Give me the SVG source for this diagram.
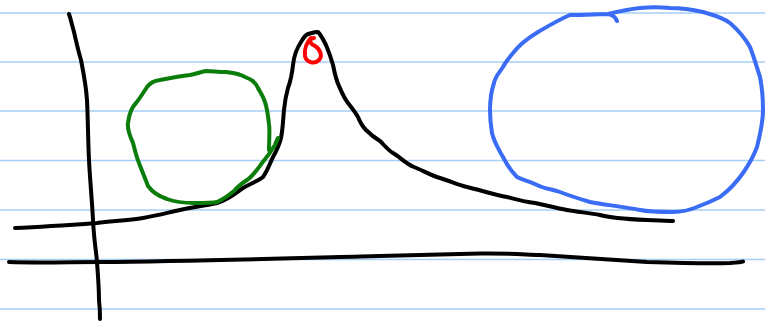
<svg xmlns="http://www.w3.org/2000/svg" width="765" height="322" viewBox="0 0 765 322">
<style>
.rule{stroke:#a6cff7;stroke-width:1.5;fill:none}
.ink{fill:none;stroke-width:4;stroke-linecap:round;stroke-linejoin:round}
.black{stroke:#000}
.green{stroke:#0b7d0b}
.red{stroke:#ff0000}
.blue{stroke:#3a6cf5}
</style>
<rect width="765" height="322" fill="#fff"/>
<g id="paper-lines">
<line class="rule" x1="0" y1="13" x2="765" y2="13"/>
<line class="rule" x1="0" y1="62" x2="765" y2="62"/>
<line class="rule" x1="0" y1="111" x2="765" y2="111"/>
<line class="rule" x1="0" y1="160.5" x2="765" y2="160.5"/>
<line class="rule" x1="0" y1="210" x2="765" y2="210"/>
<line class="rule" x1="0" y1="259.5" x2="765" y2="259.5"/>
<line class="rule" x1="0" y1="309" x2="765" y2="309"/>
</g>
<g id="axes">
<path class="ink black" d="M69,14 C71,20 72,25 74,32 C77,45 78,50 81,60 C84,75 86,85 87,100 C88,120 88,140 89,160 C90,180 92,200 93,220 C94,240 96,250 97,262 C98,275 99,290 99,300 C100,308 100,314 100,319"/>
<path class="ink black" d="M9,262 C40,263 70,262 100,262 C200,261 300,258 380,256 C420,255 460,254 480,253.5 C500,253 515,254 540,255 C570,257 600,259 647,262 C680,263 713,263.5 730,263 C738,262.5 742,262 743,261.5"/>
</g>
<g id="curve">
<path class="ink black" d="M15,228 C40,227 70,225 97,223 C115,221 130,220 143,218 C160,215 170,212 180,210 C195,207 207,205 217,203 C228,200 236,193 243,188 C250,184 258,181 263,177 C268,170 270,163 273,157 C277,150 279,146 281,138 C283,128 283,120 284,110 C285,100 286,95 288,88 C291,80 292,74 293,65 C294,55 297,48 301,42 C304,37 305,35 308,34 C312,33 314,32 318,32 C321,35 323,39 326,45 C329,52 331,58 333,65 C335,75 336,80 339,86 C342,93 344,98 348,103 C352,108 355,112 358,117 C360,122 362,126 366,130 C371,135 375,138 380,141 C385,146 388,150 393,153 C400,157 406,164 414,167 C422,170 430,175 440,178 C450,181 458,185 467,187 C480,190 495,195 507,197 C518,200 525,202 535,203 C545,205 556,208 567,210 C578,212 590,213 600,215 C610,218 625,219 647,220 C660,220.5 668,220.5 673,221"/>
</g>
<g id="green-circle">
<path class="ink green" d="M269,150 C269,140 270,130 269,124 C268,115 267,108 265,102 C263,96 260,92 258,88 C255,81 250,79 245,77 C238,73 232,73 226,72 C218,72 212,71 206,71 C200,72 196,74 190,75 C180,76 170,78 160,80 C153,81 150,83 147,87 C143,93 140,98 136,103 C131,108 129,115 128,123 C127,130 130,136 133,143 C135,150 136,156 139,163 C142,171 145,178 148,186 C153,193 158,196 167,199 C175,202 184,203 194,203 C205,203 212,203 217,202 C224,199 229,195 234,191 C238,186 241,184 247,180 C253,176 257,170 262,163 C268,156 272,150 275,145 C276,142 277,140 278,138"/>
</g>
<g id="red-mark">
<path class="ink red" d="M311,38 C307,42 304,49 305,56 C306,62 314,65 319,60 C323,56 320,49 315,46 C311,44 309,42 311,39 C312,38 313,38 314,38"/>
</g>
<g id="blue-circle">
<path class="ink blue" d="M612,14 C600,14 585,15 570,15 C560,19 550,25 538,32 C528,38 520,44 513,53 C508,59 505,63 503,67 C499,73 495,77 494,83 C491,92 490,100 490,110 C490,120 491,127 492,133 C494,142 498,148 503,157 C507,165 511,171 517,177 C522,180 527,180 537,185 C545,189 552,189 560,192 C570,196 580,199 590,202 C605,205 620,206 640,210 C650,212 662,212 673,212 C682,212 690,210 697,207 C705,204 712,201 720,197 C728,191 736,183 743,173 C750,163 754,155 757,147 C760,135 763,122 763,110 C763,97 762,87 760,77 C757,68 755,60 750,47 C745,38 738,30 730,23 C722,17 713,15 703,12 C690,9 680,8 670,8 C660,7 650,7 640,8 C630,9 620,11 608,14 C613,15 616,18 617,21"/>
</g>
</svg>
